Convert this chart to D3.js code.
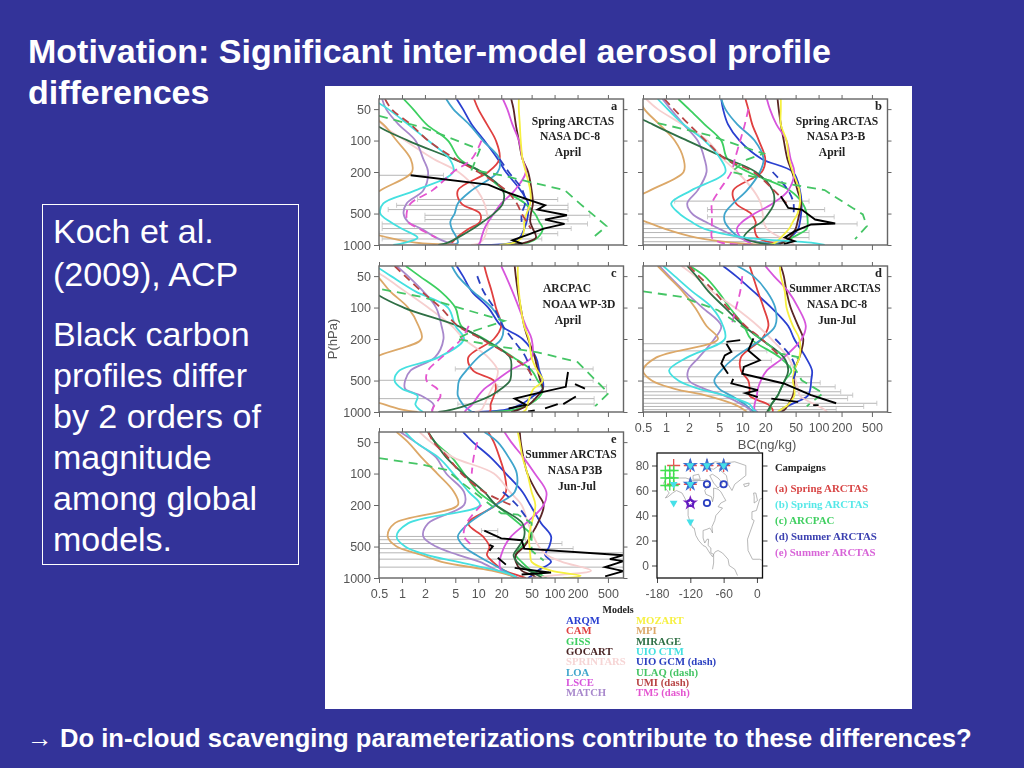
<!DOCTYPE html>
<html><head><meta charset="utf-8">
<script src="https://d3js.org/d3.v7.min.js"></script>
<style>html,body{margin:0;padding:0;background:#333399;overflow:hidden}svg{display:block}</style>
</head><body><svg id="c" width="1024" height="768"></svg>
<script>
// ---------- data ----------
const pressureTicks=[50,100,200,500,1000];
const bcTicks=[0.5,1,2,5,10,20,50,100,200,500];
const levels=[40,50,70,100,150,200,300,400,500,600,700,850,950,1000];
const modelNames=["ARQM","CAM","GISS","GOCART","SPRINTARS","LOA","LSCE","MATCH","MOZART","MPI","MIRAGE","UIO CTM","UIO GCM","UMI","TM5"];
const modelColors=["#2a3fd0","#e04040","#3ccf60","#5a2525","#f6cfcf","#3fa5cc","#d755dc","#a888cc","#f6f040","#dca868","#2f6f45","#45e0e0","#2a3fc0","#b84545","#e455d0"];
const modelDash=[0,0,0,0,0,0,0,0,0,0,0,0,1,1,1];
const ulaqColor="#45c565";
const panelA=[
[5.2,6.3,8.2,12,18,23,36,45,45,43,40,35,28,9],
[8.8,10,13,17,19,13.5,5.4,6,10.5,10.5,7.5,5.2,4.5,4],
[1.05,1.4,2.1,4,5.7,11,22,41,55,63,70,60,45,20],
[27,29,31,34,38,45,50,52,49,48,52,57,41,27],
[.4,.43,.55,1.1,2.6,5.5,9.7,12,13,13.5,13,12,10.5,8],
[3.8,4.7,7.6,11.5,19,18,8.2,5.4,4.9,4.3,4.5,5.2,5.4,4.2],
[21,24,28,34,38,42,30,20,16,13.5,12,11,10.5,10],
[.55,.62,.9,1.5,1.9,2.2,1.9,1.15,1.05,1.2,1.8,2.8,4,5.2],
[34,34,35,36,38,42,48,48,43,40,40,37,29,19],
[.3,.3,.57,.85,1.3,1.35,.52,.3,.3,.3,.3,.66,1.5,5.5],
[.3,.3,.45,1.2,4.7,11,21,21,16,11.5,8.5,5.4,4,3],
[.4,.66,1.2,2.2,4.2,4.7,1.5,.57,.52,.7,1,1.6,1.1,.77],
[null,null,null,null,19,25,38,41,37,37,null,null,null,null],
[.6,.73,1.3,2.2,5,10,23,32,37,43,49,null,null,null],
[null,null,null,11,8.2,4.7,2.5,1.3,1.15,1.2,1.7,2.8,null,null]];
const panelAUlaqP=[58,76,122,190,218,252,298,408,660,880];
const panelAUlaqV=[.5,2,10.5,8.2,22,50,135,220,480,300];
const panelAObsP=[215,264,306,367,417,458,519,571,628,696,794,900,977];
const panelAObsV=[1.3,13.5,22,45,75,60,145,75,135,72,45,28,38];
const panelAErrP=[215,367,417,458,519,571,628,696,780,875];
const panelAErrLo=[.5,1.6,.85,.66,2,2,.55,.55,.5,.55];
const panelAErrHi=[3.5,110,150,150,290,150,270,165,110,68];
const panelB=[
[5.3,5.6,6.5,9.2,18,46,57,60,59,57,54,42,32,21],
[11,12,13.5,16.5,20,18,7.6,8.3,13,15,14.5,16,24,32],
[1.45,2,3.2,5.3,6.4,12,42,62,70,72,70,45,34,22],
[29,30,32,35,39,45,53,59,56,53,50,42,34,27],
[.55,.78,1.65,3.5,5.6,8.6,14,17.5,18.5,19,21,32,44,48],
[5.3,6,8.6,14.5,19,17,11.5,7.6,5.9,5.9,6.8,9.4,19,32],
[21,23,28,38,43,48,40,25,14.5,10,8.5,9.6,12.5,14],
[.9,1.15,1.7,2.6,3.2,3.4,2.6,1.9,2.2,3.3,5,9,17,20],
[32,32,32,38,41,46,56,57,53,46,41,32,27,22],
[.45,.52,.82,1.3,1.7,1.7,.62,.3,.3,.55,.97,2.5,7.3,21],
[.3,.3,.67,1.9,6.4,15,25,26,22,18,13,10.5,16,26],
[.78,1.05,1.7,3.2,5.2,6,2.15,1.17,1.5,2.15,3.2,11,80,120],
[null,null,null,null,null,25,40,47,47,null,null,null,null,null],
[.95,1.27,2,3.3,6,14,26,38,null,null,null,null,null,null],
[null,12,10.8,9.4,8,7.2,5,4,4,4,4,4,5.3,14]];
const panelBUlaqP=[68,88,114,133,152,200,246,298,510,660,880];
const panelBUlaqV=[.78,3.5,10,19,11.5,7.2,26,120,380,430,300];
const panelBObsP=[342,442,458,570,622,636,740,850,920,980];
const panelBObsV=[32,40,60,90,165,80,48,36,48,35];
const panelBErrP=[380,458,537,628,696,760,850,930];
const panelBErrLo=[1.3,3.5,3.5,.5,.5,.5,.5,.5];
const panelBErrHi=[75,120,160,320,70,75,75,44];
const panelC=[
[5.2,6.3,8.2,13.5,20,38,57,63,70,70,53,36,23,8],
[12,13,15,17,20,16,7.4,8.5,16,17,16,14.5,14.5,14],
[1.12,1.7,3.2,5,6,12,29,50,60,70,65,46,30,15],
[30,31,33,36,40,45,55,60,65,70,60,46,34,27],
[.35,.57,1.1,2.2,4.5,6.5,13.5,18,17,15,13.5,12,11,9],
[4.5,5.4,8.5,15,21,20,10,7,5.6,5.4,5.4,6.3,7.5,8.3],
[20,23,28,34,42,50,50,26,17,12,10,8.3,7,6.6],
[.85,1.2,1.9,2.8,3.3,3.5,2.7,1.3,1.1,1.1,1.8,2.6,2.5,2.5],
[33,33,34,36,40,46,50,59,70,53,48,44,42,38],
[.3,.47,.7,1.2,1.65,1.8,.45,.3,.3,.3,.3,.6,1,1.6],
[.3,.3,.42,1.05,5.4,11.5,26,27,26,20,14.5,7.5,4.5,3],
[.45,.72,1.5,4,5,6.5,3,.93,.8,1,1.6,1.5,1.7,1.9],
[null,9.7,11.7,16,21,28,42,47,48,null,null,null,null,null],
[.8,1.1,1.8,3.2,5.4,11,28,46,53,null,null,null,null,null],
[null,null,null,null,7.5,6,3.3,2.2,2.1,2.9,3.2,2.7,2.5,2.5]];
const panelCUlaqP=[67,79,134,170,200,240,268,333,660,880];
const panelCUlaqV=[.55,1.8,22,8.2,5.2,22,60,200,510,340];
const panelCObsP=[414,574,660,745,855,925,null,541,597,null,710,840,null,840,925,null,968,990];
const panelCObsV=[150,140,60,30,42,25,null,185,250,null,190,130,null,110,75,null,55,45];
const panelCErrP=[387,497,573,640,745,840];
const panelCErrLo=[5,.5,18,18,.5,5.4];
const panelCErrHi=[320,320,480,480,330,330];
const panelD=[
[5.6,8.3,14,24,40,48,68,82,80,78,72,43,32,31],
[12.5,13.8,16,19,22,18,9.6,9.6,12,12.5,12.5,22,25,25],
[2.05,3.2,4.8,6.8,10.5,13,31,44,36,32,29,24,23,21],
[32,35,38,43,54,63,56,48,48,48,46,40,36,32],
[1.6,2.4,4,8,16,24,40,48,50,54,57,90,120,130],
[8.6,14,21,27,27,18,8,5.3,4.3,5,7.2,11,13,14.5],
[20,26,40,54,68,60,35,21,17.5,16,15.5,14.5,14.5,16],
[.82,1.1,1.75,3,5.3,4.3,2.7,1.95,2,3.2,5.9,10,12.6,13],
[31,32,36,38,46,56,56,48,46,48,48,40,32,29],
[.78,1.05,1.65,2.4,3.4,4.8,.75,.5,.65,1.3,3.5,8,10.5,11.5],
[1.9,2.5,3.6,5.9,10.5,17.5,35,40,36,32,29,24,22,21],
[.92,1.3,2.2,4,5.6,5.9,1.9,1.1,1.45,2.7,6.2,12.6,14,15.5],
[null,null,null,null,null,27,44,50,46,null,null,null,null,null],
[2,2.7,4.3,6.4,11,18,32,null,null,null,null,null,null,null],
[null,10,9.4,8.3,7.2,null,null,null,null,null,null,null,null,null]];
const panelDUlaqP=[70,79,106,191,276,298,372,497,660,880];
const panelDUlaqV=[.5,1.6,4.8,16,32,54,48,60,115,70];
const panelDObsP=[213,205,null,197,257,320,370,430,533,690,825,null,222,266,287,344,430,null,481,533,617,660,720,null,745,800,null,860,860];
const panelDObsV=[6.2,9.4,null,14,12,17,10.5,10,35,80,170,null,6.2,7.2,5.9,5.3,6.5,null,7.6,7.2,16,11,16,null,24,54,null,85,100];
const panelDErrP=[222,260,320,370,460,525,574,640,690,745,825,885,950];
const panelDErrLo=[.5,.5,.5,.5,.5,.5,.5,.5,.5,.5,.5,.5,.5];
const panelDErrHi=[14.5,21,24,43,80,105,165,195,280,240,580,390,170];
const panelE=[
[6.3,8.5,14.5,23,38,48,67,90,85,75,90,60,50,45],
[13.5,16,19,22,23,17,7.4,11.5,14,13,15.5,22,34,42],
[2.2,2.7,4.5,6.5,10,17,34,50,37,31,37,50,70,78],
[35,36,39,44,58,72,60,48,40,31,31,37,53,58],
[1.7,2.4,4.7,16,26,37,45,53,62,78,125,300,90,50],
[12,18,25,32,30,17,7.5,5.4,6.5,9.3,13.5,22,29,32],
[22,27,39,55,78,72,42,27,22,20,19,20,28,34],
[.95,1.5,2.8,3.8,6.5,6.5,2.2,1.9,2.8,5.4,10.5,18,27,30],
[33,35,38,44,50,56,50,46,47,48,50,90,220,130],
[.85,1.2,1.8,2.9,4.8,5.4,.8,.65,.85,1.8,3.3,15,27,33],
[2.2,2.7,3.8,6.3,12,17,38,40,34,29,32,46,62,68],
[1.1,1.5,3,4.7,7.5,10.5,1.2,.85,1.1,2.1,5.4,18,29,32],
[null,null,null,null,21,32,48,null,null,null,null,null,null,null],
[2.2,2.6,4,6,12,27,null,null,null,null,null,null,null,null],
[null,9.7,8.7,8.2,null,11,7,6.5,8.7,null,null,null,null,null]];
const panelEUlaqP=[71,82,92,127,240,247,298,547,680];
const panelEUlaqV=[.5,1.8,3.8,6.5,20,33,50,50,72];
const panelEObsP=[352,418,435,523,605,660,690,787,860,965,null,481,497,547,null,640,745,null,800,885,null,925,885];
const panelEObsV=[12,20,37,40,800,530,800,460,800,460,null,14,15.5,14,null,18,23,null,30,85,null,37,90];
const panelEErrP=[352,400,430,468,523,574,660,787];
const panelEErrLo=[11,.5,.5,.5,.5,.5,.5,.5];
const panelEErrHi=[18,18,42,125,175,800,800,800];

const lonTicks=[-180,-120,-60,0];
const latTicks=[0,20,40,60,80];
const redPlusLon=[-150,-120,-90,-60,-150,-120];
const redPlusLat=[80,80,80,80,65,65];
const greenLon=[-165,-165,-165,-157,-157,-157,-150,-150,-150];
const greenLat=[76,70,64,76,70,64,76,70,64];
const cyanLon=[-120,-90,-60,-150,-120,-150,-120];
const cyanLat=[80,80,80,65,65,50,35];
const blueLon=[-90,-60,-90,-120];
const blueLat=[65,65,50,50];
const starLon=[-120,-90,-60,-120,-120];
const starLat=[80,80,80,65,50];
const starColor=["#3a6fd0","#3a6fd0","#3a6fd0","#3a6fd0","#7a1fc0"];
const coastLon=[-168,-162,-156,-140,-128,-115,-108,-95,-90,-85,-94,-92,-82,-80,-78,-78,-70,-65,-60,-56,-65,-70,-62,-66,-70,-74,-76,-81,-80,-82,-85,-90,-97,-97,-94,-90,-87,-88,-83,-83,-78,-75,-70,-62,-52,-50,-40,-35,null,-78,-80,-85,-92,-97,-105,-110,-113,-115,-120,-124,-124,-130,-135,-145,-152,-160,-165,-158,-165,-168,null,-80,-78,-78,null,-60,-40,-20,-20,-40,-45,-52,-55,-68,-60,null,-80,-70,-62,-70,-78,-85,-80,null,-90,-75,-62,-78,-90,-90,null,-115,-105,-102,-115,-115,null,-24,-14,-15,-22,-24,null,-6,-2,1,-5,-5,-6,null,10,5,-1,-9,-9,-5,-17,-16,-8,5,10];
const coastLat=[66,70,71,70,70,68,68,68,69,66,60,57,55,51,55,62,61,59,55,52,50,47,46,44,42,40,36,31,26,28,30,29,28,22,18,21,21,16,14,10,9,11,12,10,5,0,-3,-8,null,9,7,10,15,16,20,24,30,30,34,40,48,54,58,60,58,55,54,58,62,66,null,-3,2,9,null,82,83,80,72,65,60,65,72,77,82,null,73,70,66,62,66,72,73,null,80,83,82,77,78,80,null,72,73,69,69,72,null,65,66,64,63,65,null,58,58,52,50,55,58,null,54,53,44,43,37,36,21,12,5,5,4];
const campaignNames=["(a) Spring ARCTAS","(b) Spring ARCTAS","(c) ARCPAC","(d) Summer ARCTAS","(e) Summer ARCTAS"];
const campaignColors=["#d84545","#55e8e8","#3fcf60","#3a3fb0","#d865d8"];
const legendCol1=["ARQM","CAM","GISS","GOCART","SPRINTARS","LOA","LSCE","MATCH"];
const legendCol1Colors=["#2a3fd0","#e04040","#3ccf60","#4a2525","#f6d5d5","#3fa5cc","#d755dc","#a888cc"];
const legendCol2=["MOZART","MPI","MIRAGE","UIO CTM","UIO GCM (dash)","ULAQ (dash)","UMI (dash)","TM5 (dash)"];
const legendCol2Colors=["#f6f040","#dca868","#2f6f45","#45e0e0","#2a3fc0","#45c565","#b84545","#e455d0"];
const titleLines=["Motivation: Significant inter-model aerosol profile","differences"];
const boxLines=[["Koch et al.",243],["(2009), ACP",286],["Black carbon",346],["profiles differ",387],["by 2 orders of",428],["magnitude",469],["among global",510],["models.",551]];
const footerArrow="\u2192";
const footer="Do in-cloud scavenging parameterizations contribute to these differences?";

// ---------- drawing ----------
const svg=d3.select("#c");
const sans="Liberation Sans, Arial, sans-serif", serif="Liberation Serif, Times New Roman, serif";
const defs=svg.append("defs");
defs.append("filter").attr("id","soft").attr("x","-2%").attr("y","-2%").attr("width","104%").attr("height","104%")
  .append("feGaussianBlur").attr("stdDeviation",0.7);
svg.append("rect").attr("width",1024).attr("height",768).attr("fill","#333399");
titleLines.forEach((t,i)=>svg.append("text").attr("x",28).attr("y",63+i*41).attr("fill","#fff")
  .attr("font-family",sans).attr("font-weight","bold").attr("font-size",34).text(t));
svg.append("rect").attr("x",42.5).attr("y",204.5).attr("width",256).attr("height",360).attr("fill","none").attr("stroke","#fff");
boxLines.forEach(d=>svg.append("text").attr("x",53).attr("y",d[1]).attr("fill","#fff").attr("font-family",sans).attr("font-size",34).text(d[0]));
svg.append("text").attr("x",27).attr("y",747).attr("fill","#fff").attr("font-family",sans).attr("font-weight","bold").attr("font-size",25.6).text(footerArrow);
svg.append("text").attr("x",60).attr("y",747).attr("fill","#fff").attr("font-family",sans).attr("font-weight","bold").attr("font-size",25.6).text(footer);
svg.append("rect").attr("x",325).attr("y",86).attr("width",587).attr("height",623).attr("fill","#fff");
const fig=svg.append("g").attr("filter","url(#soft)");

function drawPanel(id,x0,y0,vals,uP,uV,oP,oV,eP,eLo,eHi,titles,yLabels,xLabels){
  const x=d3.scaleLog().domain([0.5,800]).range([x0,x0+244.5]);
  const y=d3.scaleLog().domain([40,1000]).range([y0,y0+146]);
  const g=fig.append("g");
  const cid="clip"+id;
  defs.append("clipPath").attr("id",cid).append("rect").attr("x",x0).attr("y",y0).attr("width",244.5).attr("height",146);
  const body=g.append("g").attr("clip-path",`url(#${cid})`);
  eP.forEach((p,i)=>{
    body.append("line").attr("x1",x(eLo[i])).attr("x2",x(eHi[i])).attr("y1",y(p)).attr("y2",y(p)).attr("stroke","#b5b5b5").attr("stroke-width",1);
    [eLo[i],eHi[i]].forEach(v=>body.append("line").attr("x1",x(v)).attr("x2",x(v)).attr("y1",y(p)-2.5).attr("y2",y(p)+2.5).attr("stroke","#c0c0c0").attr("stroke-width",.8));
  });
  vals.forEach((s,i)=>{
    const line=d3.line().defined(d=>d[1]!=null).x(d=>x(d[1])).y(d=>y(d[0])).curve(d3.curveCatmullRom.alpha(.5));
    body.append("path").attr("d",line(levels.map((p,k)=>[p,s[k]]))).attr("fill","none")
      .attr("stroke",modelColors[i]).attr("stroke-width",1.8).attr("stroke-dasharray",modelDash[i]?"8 5":null);
  });
  const lineL=d3.line().defined(d=>d[0]!=null).x(d=>x(d[1])).y(d=>y(d[0]));
  body.append("path").attr("d",lineL(uP.map((p,k)=>[p,uV[k]]))).attr("fill","none").attr("stroke",ulaqColor).attr("stroke-width",1.8).attr("stroke-dasharray","9 6");
  body.append("path").attr("d",lineL(oP.map((p,k)=>[p,oV[k]]))).attr("fill","none").attr("stroke","#000").attr("stroke-width",1.9);
  const fmt=d3.format("~g");
  const ax=(gen,tx,ty,lab)=>{const a=g.append("g").attr("transform",`translate(${tx},${ty})`).call(gen);
    a.select(".domain").remove();a.selectAll("line").attr("stroke","#666").attr("stroke-width",1);
    a.selectAll("text").attr("font-family",sans).attr("font-size",12.5).attr("fill","#555");
    if(!lab)a.selectAll("text").remove();return a;};
  ax(d3.axisLeft(y).tickValues(pressureTicks).tickFormat(fmt).tickSize(5).tickPadding(3),x0,0,yLabels);
  ax(d3.axisRight(y).tickValues(pressureTicks).tickSize(4),x0+244.5,0,false);
  ax(d3.axisTop(x).tickValues(bcTicks).tickSize(4),0,y0,false);
  ax(d3.axisBottom(x).tickValues(bcTicks).tickFormat(fmt).tickSize(5).tickPadding(6),0,y0+146,xLabels);
  g.append("rect").attr("x",x0).attr("y",y0).attr("width",244.5).attr("height",146).attr("fill","none").attr("stroke","#666").attr("stroke-width",1.4);
  g.append("text").attr("x",x0+232).attr("y",y0+11).attr("font-family",serif).attr("font-weight","bold").attr("font-size",12.5).attr("fill","#222").text(id);
  titles.forEach(t=>g.append("text").attr("x",x0+t[1]).attr("y",y0+t[2]).attr("text-anchor","middle").attr("font-family",serif).attr("font-weight","bold").attr("font-size",11.6).attr("fill","#222").text(t[0]));
}
drawPanel("a",379,99,panelA,panelAUlaqP,panelAUlaqV,panelAObsP,panelAObsV,panelAErrP,panelAErrLo,panelAErrHi,[["Spring ARCTAS",194,26],["NASA DC-8",191,41],["April",189,57]],true,false);
drawPanel("b",643,99,panelB,panelBUlaqP,panelBUlaqV,panelBObsP,panelBObsV,panelBErrP,panelBErrLo,panelBErrHi,[["Spring ARCTAS",194,26],["NASA P3-B",193,41],["April",189,57]],false,false);
drawPanel("c",379,266,panelC,panelCUlaqP,panelCUlaqV,panelCObsP,panelCObsV,panelCErrP,panelCErrLo,panelCErrHi,[["ARCPAC",188,26],["NOAA WP-3D",200,42],["April",189,58]],true,false);
drawPanel("d",643,266,panelD,panelDUlaqP,panelDUlaqV,panelDObsP,panelDObsV,panelDErrP,panelDErrLo,panelDErrHi,[["Summer ARCTAS",192,26],["NASA DC-8",194,42],["Jun-Jul",194,58]],false,true);
drawPanel("e",379,432,panelE,panelEUlaqP,panelEUlaqV,panelEObsP,panelEObsV,panelEErrP,panelEErrLo,panelEErrHi,[["Summer ARCTAS",192,26],["NASA P3B",196,42],["Jun-Jul",198,58]],true,true);
fig.append("text").attr("transform","translate(337,339) rotate(-90)").attr("text-anchor","middle").attr("font-family",sans).attr("font-size",13).attr("fill","#555").text("P(hPa)");
fig.append("text").attr("x",767).attr("y",449).attr("text-anchor","middle").attr("font-family",sans).attr("font-size",13).attr("fill","#555").text("BC(ng/kg)");

// map
const mx=d3.scaleLinear().domain([-180,10]).range([657,762.5]);
const my=d3.scaleLinear().domain([-10,90]).range([578,453]);
const mg=fig.append("g");
defs.append("clipPath").attr("id","clipm").append("rect").attr("x",657).attr("y",453).attr("width",105.5).attr("height",125);
mg.append("path").attr("clip-path","url(#clipm)").attr("d",d3.line().defined(d=>d[0]!=null).x(d=>mx(d[0])).y(d=>my(d[1]))(coastLon.map((l,i)=>[l,coastLat[i]]))).attr("fill","none").attr("stroke","#9a9a9a").attr("stroke-width",.7);
const plus=(lon,lat,r,c,w)=>{mg.append("path").attr("d",`M${mx(lon)-r},${my(lat)}h${2*r}M${mx(lon)},${my(lat)-r}v${2*r}`).attr("stroke",c).attr("stroke-width",w).attr("fill","none");};
redPlusLon.forEach((l,i)=>plus(l,redPlusLat[i],6.5,"#e85050",1.3));
greenLon.forEach((l,i)=>plus(l,greenLat[i],5,"#3fe04f",1.4));
starLon.forEach((l,i)=>mg.append("path").attr("d",d3.symbol(d3.symbolStar,34)()).attr("transform",`translate(${mx(l)},${my(starLat[i])})`).attr("fill","none").attr("stroke",starColor[i]).attr("stroke-width",1.6));
cyanLon.forEach((l,i)=>mg.append("path").attr("d",d3.symbol(d3.symbolTriangle,26)()).attr("transform",`translate(${mx(l)},${my(cyanLat[i])}) rotate(180)`).attr("fill","#45e0e8"));
blueLon.forEach((l,i)=>mg.append("circle").attr("cx",mx(l)).attr("cy",my(blueLat[i])).attr("r",3.2).attr("fill","none").attr("stroke",i==3?"#5a1fc0":"#2a3fc0").attr("stroke-width",1.8));
const fmt2=v=>String(v);
const mAx=(gen,tx,ty,lab)=>{const a=mg.append("g").attr("transform",`translate(${tx},${ty})`).call(gen);a.select(".domain").remove();
  a.selectAll("line").attr("stroke","#444");a.selectAll("text").attr("font-family",sans).attr("font-size",12).attr("fill","#555");if(!lab)a.selectAll("text").remove();};
mAx(d3.axisLeft(my).tickValues(latTicks).tickFormat(fmt2).tickSize(5).tickPadding(3),657,0,true);
mAx(d3.axisRight(my).tickValues(latTicks).tickSize(5),762.5,0,false);
mAx(d3.axisBottom(mx).tickValues(lonTicks).tickFormat(fmt2).tickSize(5).tickPadding(6),0,578,true);
mAx(d3.axisTop(mx).tickValues(lonTicks).tickSize(0),0,453,false);
mg.append("rect").attr("x",657).attr("y",453).attr("width",105.5).attr("height",125).attr("fill","none").attr("stroke","#111").attr("stroke-width",1.3);
const serifText=(t,xp,yp,c,fs,anc)=>fig.append("text").attr("x",xp).attr("y",yp).attr("fill",c).attr("font-family",serif).attr("font-weight","bold").attr("font-size",fs).attr("text-anchor",anc||"start").text(t);
serifText("Campaigns",775,471,"#222",10.5);
campaignNames.forEach((t,i)=>serifText(t,775,492+i*16,campaignColors[i],10.9));
serifText("Models",618,613,"#222",10,"middle");
legendCol1.forEach((t,i)=>serifText(t,566,624+i*10.3,legendCol1Colors[i],10.7));
legendCol2.forEach((t,i)=>serifText(t,636,624+i*10.3,legendCol2Colors[i],10.7));
</script></body></html>
